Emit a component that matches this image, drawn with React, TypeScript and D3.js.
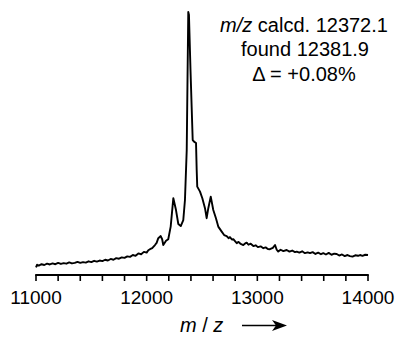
import React from "react";
import * as d3 from "d3";

const mzValues: number[] = [
  11000, 11010, 11025, 11050, 11075, 11100, 11125, 11150, 11175, 11200, 11225, 11250, 11275, 11300,
  11325, 11350, 11375, 11400, 11425, 11450, 11475, 11500, 11525, 11550, 11575, 11600, 11625, 11650,
  11675, 11700, 11725, 11750, 11775, 11800, 11825, 11850, 11875, 11900, 11925, 11950, 11975, 12000,
  12015, 12030, 12050, 12075, 12090, 12105, 12127, 12140, 12150, 12175, 12195, 12217, 12241, 12265,
  12286, 12308, 12331, 12346, 12362, 12369, 12376, 12382, 12396, 12416, 12428, 12446, 12452, 12457,
  12482, 12503, 12527, 12542, 12557, 12579, 12602, 12626, 12647, 12678, 12700, 12723, 12740, 12753,
  12770, 12783, 12800, 12814, 12830, 12850, 12873, 12890, 12904, 12920, 12940, 12964, 12985, 13005,
  13030, 13054, 13075, 13095, 13114, 13140, 13160, 13175, 13189, 13210, 13235, 13265, 13290, 13315,
  13340, 13356, 13380, 13405, 13430, 13455, 13476, 13500, 13525, 13550, 13575, 13596, 13620, 13645,
  13670, 13695, 13717, 13740, 13765, 13790, 13815, 13837, 13860, 13885, 13910, 13928, 13950, 13975,
  14000,
];

const intensityValues: number[] = [
  2.9, 3.9, 3.6, 4.1, 3.8, 4.3, 4.0, 4.4, 4.1, 4.6, 4.2, 4.5, 4.3, 4.8,
  4.4, 4.6, 5.0, 4.6, 4.9, 4.7, 5.2, 4.9, 5.4, 5.1, 5.5, 5.3, 5.8, 5.5,
  6.1, 5.8, 6.4, 6.2, 6.7, 6.5, 7.1, 6.9, 7.6, 7.3, 8.2, 7.9, 8.8, 8.5,
  9.4, 9.8, 10.2, 11.4, 12.2, 14.0, 14.8, 13.6, 11.4, 13.0, 13.6, 18.4, 29.2, 24.7,
  19.4, 18.6, 20.9, 28.5, 47.5, 74, 100, 99, 78, 51.3, 50.7, 50.2, 39.9, 33.6,
  31.7, 29.2, 25.4, 21.6, 25.4, 29.8, 24.7, 21.6, 18.4, 16.5, 15.2, 14.8, 14.0, 14.4,
  13.5, 13.6, 12.8, 12.1, 12.6, 11.8, 11.4, 12.0, 12.3, 11.5, 11.9, 11.0, 11.3, 10.6,
  10.9, 10.2, 10.5, 9.9, 9.8, 10.3, 11.4, 9.6, 8.9, 9.6, 9.1, 9.5, 8.9, 9.3,
  8.7, 8.9, 8.5, 9.0, 8.3, 8.6, 8.3, 8.7, 8.0, 8.5, 7.9, 8.3, 7.8, 8.4,
  7.7, 8.1, 8.0, 7.4, 7.8, 7.2, 7.6, 7.2, 7.0, 7.5, 7.3, 7.6, 7.3, 7.7,
  7.6,
];

const tickValues: number[] = d3.range(11000, 14001, 200);
const labelTicks: number[] = [11000, 12000, 13000, 14000];
const annotationLines: string[] = ["calcd. 12372.1", "found 12381.9", "Δ = +0.08%"];

const FONT = "Liberation Sans, Arial, Helvetica, sans-serif";

export default function App() {
  const x = d3.scaleLinear().domain([11000, 14000]).range([36, 368]);
  const y = d3.scaleLinear().domain([0, 100]).range([275, 12]);
  const data = mzValues.map((m, i) => [m, intensityValues[i]] as [number, number]);
  const line = d3
    .line<[number, number]>()
    .x((d) => x(d[0]))
    .y((d) => y(d[1]));
  const axisY = 275;

  return (
    <svg
      width={398}
      height={337}
      style={{ position: "absolute", left: 0, top: 0, background: "#fff" }}
      fontFamily={FONT}
    >
      <path d={line(data) || ""} fill="none" stroke="#000" strokeWidth={1.9} strokeLinejoin="round" />
      <line x1={x(11000) - 0.8} x2={x(14000) + 0.8} y1={axisY} y2={axisY} stroke="#000" strokeWidth={1.8} />
      {tickValues.map((t) => (
        <line key={t} x1={x(t)} x2={x(t)} y1={axisY} y2={axisY + 6} stroke="#000" strokeWidth={1.6} />
      ))}
      {labelTicks.map((t) => (
        <text key={t} x={x(t)} y={303.5} textAnchor="middle" fontSize={19} fill="#000">
          {t}
        </text>
      ))}
      <text x={304} y={32.3} textAnchor="middle" fontSize={20} fill="#000">
        <tspan fontStyle="italic">m/z</tspan> {annotationLines[0]}
      </text>
      <text x={305} y={55.5} textAnchor="middle" fontSize={20} fill="#000">
        {annotationLines[1]}
      </text>
      <text x={304} y={80.5} textAnchor="middle" fontSize={20} fill="#000">
        {annotationLines[2]}
      </text>
      <text x={180} y={332} fontSize={20} fill="#000">
        <tspan fontStyle="italic">m</tspan> / <tspan fontStyle="italic">z</tspan>
      </text>
      <line x1={242} x2={278} y1={325.5} y2={325.5} stroke="#000" strokeWidth={1.5} />
      <path d="M 287 325.5 L 272 320 L 276 325.5 L 272 331 Z" fill="#000" />
    </svg>
  );
}
